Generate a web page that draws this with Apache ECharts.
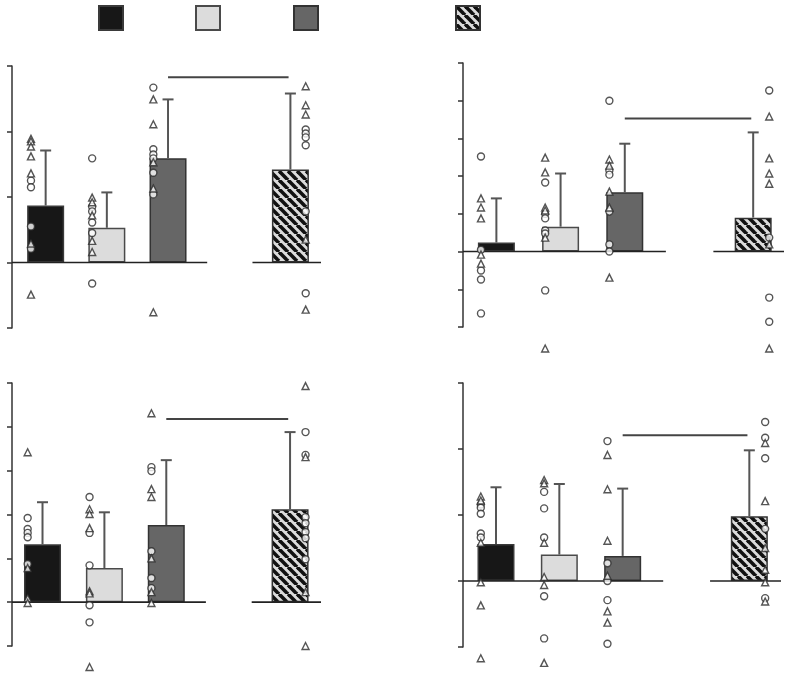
<!DOCTYPE html>
<html>
<head>
<meta charset="utf-8">
<script src="https://cdn.jsdelivr.net/npm/echarts@6/dist/echarts.min.js"></script>
<style>
  html, body { margin: 0; padding: 0; background: #fff; }
  #main { width: 789px; height: 676px; }
</style>
</head>
<body>
<div id="main"></div>
<script>
// groups (legend has no visible text in the figure)
const groupNames = ["Group 1", "Group 2", "Group 3", "Group 4"];
const groupX = [1, 2, 3, 5];

// panel A (top left)
const meansA = [0.87, 0.53, 1.59, 1.42];
const errTopA = [1.71, 1.07, 2.49, 2.58];
const sigA = 2.83;
const circlesA = [
  [1.25, 1.15, 0.55, 0.21],
  [1.59, 0.85, 0.78, 0.61, 0.45, -0.32],
  [2.67, 1.73, 1.65, 1.59, 1.37, 1.04],
  [2.03, 1.97, 1.91, 1.79, 0.78, -0.47]
];
const trianglesA = [
  [1.89, 1.85, 1.77, 1.62, 1.36, 0.29, -0.49],
  [0.99, 0.92, 0.72, 0.33, 0.16],
  [2.49, 2.11, 1.53, 1.13, -0.76],
  [2.69, 2.40, 2.26, 0.35, -0.72]
];

// panel B (top right)
const meansB = [0.24, 0.66, 1.57, 0.90];
const errTopB = [1.41, 2.07, 2.86, 3.16];
const sigB = 3.53;
const circlesB = [
  [2.52, 0.05, -0.50, -0.74, -1.64],
  [1.83, 1.0, 0.88, 0.56, 0.48, -1.03],
  [4.0, 2.15, 2.04, 1.06, 0.19, 0.0],
  [4.27, 0.37, -1.22, -1.86]
];
const trianglesB = [
  [1.41, 1.17, 0.88, -0.08, -0.32],
  [2.49, 2.10, 1.17, 1.09, 0.37, -2.57],
  [2.44, 2.28, 1.59, 1.17, -0.69],
  [3.58, 2.47, 2.07, 1.80, 0.19, -2.57]
];

// panel C (bottom left)
const meansC = [1.32, 0.78, 1.76, 2.12];
const errTopC = [2.28, 2.05, 3.24, 3.88];
const sigC = 4.18;
const circlesC = [
  [1.92, 1.67, 1.58, 1.48, 0.87],
  [2.40, 1.58, 0.84, -0.07, -0.46],
  [3.08, 2.99, 1.16, 0.55, 0.32],
  [3.88, 3.36, 1.94, 1.80, 1.60, 1.46, 0.98]
];
const trianglesC = [
  [3.42, 0.78, 0.09, -0.02],
  [2.12, 2.01, 1.69, 0.25, 0.2, -1.48],
  [4.31, 2.58, 2.40, 1.0, 0.23, -0.02],
  [4.93, 3.31, 0.23, -1.0]
];

// panel D (bottom right)
const meansD = [0.56, 0.40, 0.38, 0.98];
const errTopD = [1.42, 1.47, 1.40, 1.98];
const sigD = 2.21;
const circlesD = [
  [1.16, 1.11, 1.02, 0.72, 0.66],
  [1.35, 1.10, 0.66, -0.23, -0.87],
  [2.12, 0.27, 0.0, -0.29, -0.95],
  [2.41, 2.17, 1.86, 0.79, -0.26]
];
const trianglesD = [
  [1.28, 1.22, 0.58, -0.02, -0.37, -1.17],
  [1.53, 1.48, 0.58, 0.06, -0.06, -1.24],
  [1.91, 1.39, 0.61, 0.08, -0.46, -0.63],
  [2.09, 1.21, 0.50, 0.17, -0.02, -0.31]
];

// hatch pattern for the 4th group
function makeHatch() {
  const s = 9;
  const c = document.createElement("canvas");
  c.width = s;
  c.height = s;
  const ctx = c.getContext("2d");
  ctx.fillStyle = "#dcdcdc";
  ctx.fillRect(0, 0, s, s);
  ctx.strokeStyle = "#111";
  ctx.lineWidth = 3.6;
  for (const k of [-s, 0, s]) {
    ctx.beginPath();
    ctx.moveTo(k, 0);
    ctx.lineTo(k + s, s);
    ctx.stroke();
  }
  return c;
}

const barStyles = [
  { color: "#171717", borderColor: "#3a3a3a", borderWidth: 1.5 },
  { color: "#dcdcdc", borderColor: "#4a4a4a", borderWidth: 1.5 },
  { color: "#666666", borderColor: "#333333", borderWidth: 1.5 },
  { color: { image: makeHatch(), repeat: "repeat" }, borderColor: "#333333", borderWidth: 1.5 }
];

const panels = [
  { means: meansA, tops: errTopA, sig: sigA, circles: circlesA, triangles: trianglesA,
    grid: { left: 12, top: 66, width: 309, height: 262 }, x: [0.45, 5.5], y: [-1, 3] },
  { means: meansB, tops: errTopB, sig: sigB, circles: circlesB, triangles: trianglesB,
    grid: { left: 463, top: 63, width: 321, height: 264 }, x: [0.48, 5.48], y: [-2, 5] },
  { means: meansC, tops: errTopC, sig: sigC, circles: circlesC, triangles: trianglesC,
    grid: { left: 12, top: 383, width: 309, height: 263 }, x: [0.507, 5.5], y: [-1, 5] },
  { means: meansD, tops: errTopD, sig: sigD, circles: circlesD, triangles: trianglesD,
    grid: { left: 463, top: 383, width: 318, height: 264 }, x: [0.479, 5.5], y: [-1, 3] }
];

const grids = [], xAxes = [], yAxes = [], series = [];
const lineColor = "#333";
const pointStyle = { color: "#fff", borderColor: "#2a2a2a", borderWidth: 1.4 };

panels.forEach((p, i) => {
  grids.push(p.grid);
  xAxes.push({ type: "value", gridIndex: i, min: p.x[0], max: p.x[1], show: false });
  yAxes.push({
    type: "value", gridIndex: i, min: p.y[0], max: p.y[1], interval: 1,
    axisLine: { show: true, lineStyle: { color: lineColor, width: 1.5 } },
    axisTick: { show: true, inside: false, length: 5, lineStyle: { color: lineColor, width: 1.5 } },
    axisLabel: { show: false },
    splitLine: { show: false }
  });

  // bars
  groupNames.forEach((name, g) => {
    series.push({
      name: name, type: "bar", xAxisIndex: i, yAxisIndex: i,
      barWidth: 37, barGap: "-100%",
      itemStyle: barStyles[g],
      data: [[groupX[g], p.means[g]]],
      z: 2
    });
  });

  // error bars (upper only, with cap)
  series.push({
    type: "custom", xAxisIndex: i, yAxisIndex: i, silent: true, z: 3,
    data: groupX.map((x, g) => [x, p.means[g], p.tops[g]]),
    renderItem: (params, api) => {
      const a = api.coord([api.value(0), api.value(1)]);
      const b = api.coord([api.value(0), api.value(2)]);
      const st = { stroke: "#555", lineWidth: 2 };
      return {
        type: "group",
        children: [
          { type: "line", shape: { x1: a[0], y1: a[1], x2: b[0], y2: b[1] }, style: st },
          { type: "line", shape: { x1: b[0] - 5.5, y1: b[1], x2: b[0] + 5.5, y2: b[1] }, style: st }
        ]
      };
    }
  });

  // zero baseline, broken between groups 3 and 4
  [[p.x[0], 3.64], [4.38, p.x[1]]].forEach(seg => {
    series.push({
      type: "line", xAxisIndex: i, yAxisIndex: i, silent: true, symbol: "none", clip: false, z: 4,
      lineStyle: { color: "#222", width: 1.6 },
      data: [[seg[0], 0], [seg[1], 0]]
    });
  });

  // significance line
  series.push({
    type: "line", xAxisIndex: i, yAxisIndex: i, silent: true, symbol: "none", clip: false, z: 4,
    lineStyle: { color: "#444", width: 2 },
    data: [[3.0, p.sig], [4.97, p.sig]]
  });

  // individual points
  const offs = [-0.24, -0.24, -0.24, 0.25];
  const circ = [], tri = [];
  groupX.forEach((x, g) => {
    p.circles[g].forEach(v => circ.push([x + offs[g], v]));
    p.triangles[g].forEach(v => tri.push([x + offs[g], v]));
  });
  series.push({
    type: "scatter", xAxisIndex: i, yAxisIndex: i, silent: true, clip: false, z: 5,
    symbol: "circle", symbolSize: 7, itemStyle: pointStyle, data: circ
  });
  series.push({
    type: "scatter", xAxisIndex: i, yAxisIndex: i, silent: true, clip: false, z: 5,
    symbol: "triangle", symbolSize: 7, itemStyle: pointStyle, data: tri
  });
});

const legendLeft = [98, 195, 293, 455];
const legends = groupNames.map((name, g) => ({
  data: [name], left: legendLeft[g], top: 5, padding: 0,
  itemWidth: 24, itemHeight: 24, itemGap: 0, icon: "rect",
  selectedMode: false, formatter: () => ""
}));

const chart = echarts.init(document.getElementById("main"));
chart.setOption({
  animation: false,
  backgroundColor: "#fff",
  legend: legends,
  grid: grids,
  xAxis: xAxes,
  yAxis: yAxes,
  series: series
});
</script>
</body>
</html>
